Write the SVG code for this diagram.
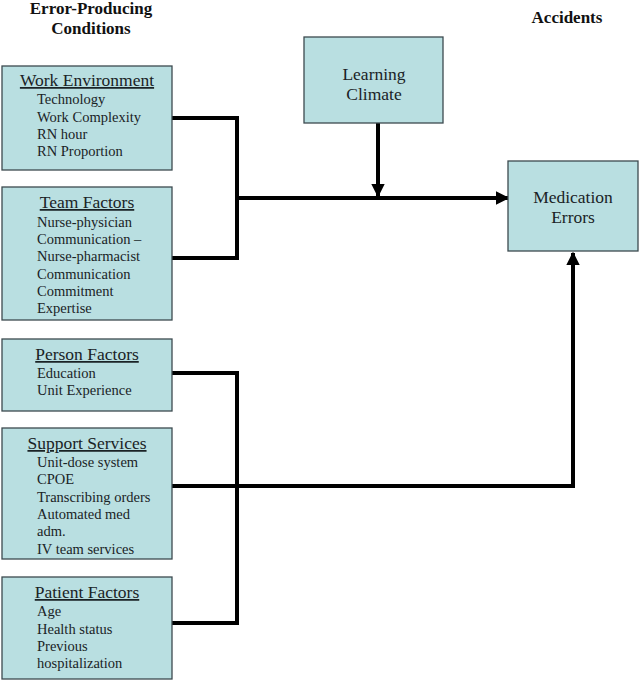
<svg xmlns="http://www.w3.org/2000/svg" width="642" height="698" viewBox="0 0 642 698">
  <defs>
    <style>
      .box { fill: #b9dfe1; stroke: #3c4a4f; stroke-width: 1.3; }
      .hdr { font-weight: bold; font-size: 17px; fill: #111; text-anchor: middle; }
      .ttl { font-size: 17.5px; fill: #1a2326; text-anchor: middle; text-decoration: underline; }
      .itm { font-size: 14.5px; fill: #1a2326; }
      .lbl { font-size: 17.5px; fill: #1a2326; text-anchor: middle; }
      .wire { fill: none; stroke: #000; stroke-width: 4; stroke-linejoin: miter; }
    </style>
    <marker id="arrow" viewBox="0 0 10 10" refX="9" refY="5" markerWidth="3.4" markerHeight="3.4" markerUnits="strokeWidth" orient="auto">
      <path d="M0,0 L10,5 L0,10 Z" fill="#000"/>
    </marker>
  </defs>

  <g font-family="Liberation Serif, serif">
    <!-- column headers -->
    <text class="hdr" x="91" y="14">Error-Producing</text>
    <text class="hdr" x="91" y="34">Conditions</text>
    <text class="hdr" x="567" y="23">Accidents</text>

    <!-- connectors -->
    <g id="connectors">
      <path class="wire" d="M172,118 H237 V258 H172"/>
      <path class="wire" d="M237,198 H508" marker-end="url(#arrow)"/>
      <path class="wire" d="M378,123 V196" marker-end="url(#arrow)"/>
      <path class="wire" d="M172,373 H237 V623 H172"/>
      <path class="wire" d="M172,486 H573 V253" marker-end="url(#arrow)"/>
    </g>

    <g id="work-environment">
      <rect class="box" x="2" y="66" width="170" height="104"/>
      <text class="ttl" x="87" y="86">Work Environment</text>
      <text class="itm" x="37" y="104">Technology</text>
      <text class="itm" x="37" y="122">Work Complexity</text>
      <text class="itm" x="37" y="139">RN hour</text>
      <text class="itm" x="37" y="156">RN Proportion</text>
    </g>

    <g id="team-factors">
      <rect class="box" x="2" y="187" width="170" height="133"/>
      <text class="ttl" x="87" y="208">Team Factors</text>
      <text class="itm" x="37" y="227">Nurse-physician</text>
      <text class="itm" x="37" y="244">Communication –</text>
      <text class="itm" x="37" y="261">Nurse-pharmacist</text>
      <text class="itm" x="37" y="279">Communication</text>
      <text class="itm" x="37" y="296">Commitment</text>
      <text class="itm" x="37" y="313">Expertise</text>
    </g>

    <g id="person-factors">
      <rect class="box" x="2" y="339" width="170" height="72"/>
      <text class="ttl" x="87" y="360">Person Factors</text>
      <text class="itm" x="37" y="378">Education</text>
      <text class="itm" x="37" y="395">Unit Experience</text>
    </g>

    <g id="support-services">
      <rect class="box" x="2" y="428" width="170" height="131"/>
      <text class="ttl" x="87" y="449">Support Services</text>
      <text class="itm" x="37" y="467">Unit-dose system</text>
      <text class="itm" x="37" y="484">CPOE</text>
      <text class="itm" x="37" y="502">Transcribing orders</text>
      <text class="itm" x="37" y="519">Automated med</text>
      <text class="itm" x="37" y="536">adm.</text>
      <text class="itm" x="37" y="554">IV team services</text>
    </g>

    <g id="patient-factors">
      <rect class="box" x="2" y="577" width="170" height="102"/>
      <text class="ttl" x="87" y="598">Patient Factors</text>
      <text class="itm" x="37" y="616">Age</text>
      <text class="itm" x="37" y="634">Health status</text>
      <text class="itm" x="37" y="651">Previous</text>
      <text class="itm" x="37" y="668">hospitalization</text>
    </g>

    <g id="learning-climate">
      <rect class="box" x="304" y="37" width="139" height="86"/>
      <text class="lbl" x="374" y="80">Learning</text>
      <text class="lbl" x="374" y="100">Climate</text>
    </g>

    <g id="medication-errors">
      <rect class="box" x="508" y="161" width="130" height="90"/>
      <text class="lbl" x="573" y="203">Medication</text>
      <text class="lbl" x="573" y="223">Errors</text>
    </g>
  </g>
</svg>
